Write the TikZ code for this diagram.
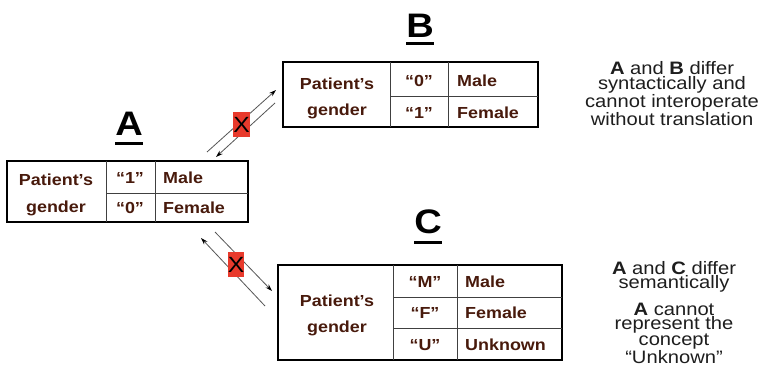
\documentclass[tikz,border=0pt]{standalone}
\usepackage{fontspec}
\setmainfont{Liberation Sans}[FakeStretch=1.12]
\usetikzlibrary{arrows.meta}

\definecolor{cellbrown}{RGB}{72,26,12}
\definecolor{xred}{RGB}{232,58,44}
\definecolor{linkgray}{RGB}{85,85,85}
\definecolor{notegray}{RGB}{30,30,30}

\tikzset{
	cell/.style={font=\fontsize{16}{16}\selectfont\bfseries, text=cellbrown, inner sep=0pt, anchor=base},
	tablelabel/.style={font=\fontsize{34}{34}\selectfont\bfseries, inner sep=0pt, anchor=base},
	outerbox/.style={line width=2.2pt, black},
	innerline/.style={line width=1pt, black!75},
	link/.style={line width=0.8pt, linkgray, -{Stealth[length=7pt,width=4.5pt,black]}},
	blocked/.style={fill=xred, minimum width=15pt, minimum height=25pt, inner sep=0pt,
		font=\fontsize{22}{22}\selectfont},
	note/.style={font=\fontsize{18}{15.5}\selectfont, text=notegray, align=center, inner sep=0pt, anchor=north}
}

\begin{document}
\begin{tikzpicture}[x=1pt, y=-1pt]
				\useasboundingbox[fill=white] (0,0) rectangle (767,367);
				
				% table A
				\draw[outerbox] (7,161) rectangle (248,222);
				\draw[innerline] (106,161) -- (106,222);
				\draw[innerline] (155,161) -- (155,222);
				\draw[innerline] (106,193) -- (248,193);
				\node[cell] (aName) at (56,185) {Patient’s};
				\node[cell] (aGender) at (56,212) {gender};
				\node[cell] (aCodeOne) at (130,183) {“1”};
				\node[cell] (aCodeTwo) at (130,213) {“0”};
				\node[cell, anchor=base west] (aMale) at (163,183) {Male};
				\node[cell, anchor=base west] (aFemale) at (163,213) {Female};
				\node[tablelabel] (labA) at (129,135) {A};
				\draw[line width=3pt] ([yshift=-8pt]labA.base west) -- ([yshift=-8pt]labA.base east);
				
				% table B
				\draw[outerbox] (283,62) rectangle (538,127);
				\draw[innerline] (390,62) -- (390,127);
				\draw[innerline] (448,62) -- (448,127);
				\draw[innerline] (390,96) -- (538,96);
				\node[cell] (bName) at (337,89) {Patient’s};
				\node[cell] (bGender) at (337,115) {gender};
				\node[cell] (bCodeOne) at (419,86) {“0”};
				\node[cell] (bCodeTwo) at (419,118) {“1”};
				\node[cell, anchor=base west] (bMale) at (457,86) {Male};
				\node[cell, anchor=base west] (bFemale) at (457,118) {Female};
				\node[tablelabel] (labB) at (420,37) {B};
				\draw[line width=3pt] ([yshift=-6pt]labB.base west) -- ([yshift=-6pt]labB.base east);
				
				% table C
				\draw[outerbox] (278,265) rectangle (562,360);
				\draw[innerline] (393,265) -- (393,360);
				\draw[innerline] (457,265) -- (457,360);
				\draw[innerline] (393,297) -- (562,297);
				\draw[innerline] (393,328) -- (562,328);
				\node[cell] (cName) at (337,306) {Patient’s};
				\node[cell] (cGender) at (337,332) {gender};
				\node[cell] (cCodeOne) at (425,287) {“M”};
				\node[cell] (cCodeTwo) at (425,318) {“F”};
				\node[cell] (cCodeThree) at (425,350) {“U”};
				\node[cell, anchor=base west] (cMale) at (465,287) {Male};
				\node[cell, anchor=base west] (cFemale) at (465,318) {Female};
				\node[cell, anchor=base west] (cUnknown) at (465,350) {Unknown};
				\node[tablelabel] (labC) at (428,233) {C};
				\draw[line width=3pt] ([yshift=-9pt]labC.base west) -- ([yshift=-9pt]labC.base east);
				
				% links A <-> B
				\coordinate (abStart) at (207,152);
				\coordinate (abEnd) at (276,90);
				\coordinate (baStart) at (275,103);
				\coordinate (baEnd) at (216,157);
				\draw[link] (abStart) -- (abEnd);
				\draw[link] (baStart) -- (baEnd);
				\node[blocked] (xAB) at (241.5,124.5) {X};
				
				% links A <-> C
				\coordinate (acStart) at (215,232);
				\coordinate (acEnd) at (272,291);
				\coordinate (caStart) at (265,306);
				\coordinate (caEnd) at (201,238);
				\draw[link] (acStart) -- (acEnd);
				\draw[link] (caStart) -- (caEnd);
				\node[blocked] (xAC) at (236,264.5) {X};
				
				% notes
				\node[note] (noteB) at (672,61) {\textbf{A} and \textbf{B} differ\\syntactically and\\cannot interoperate\\without translation};
				\node[note, font=\fontsize{18}{14.5}\selectfont] (noteC) at (674,261) {\textbf{A} and \textbf{C} differ\\semantically};
				\node[note, font=\fontsize{18}{14}\selectfont] (noteU) at (674,303) {\textbf{A} cannot\\represent the\\concept\\“Unknown”};
			\end{tikzpicture}
\end{document}
